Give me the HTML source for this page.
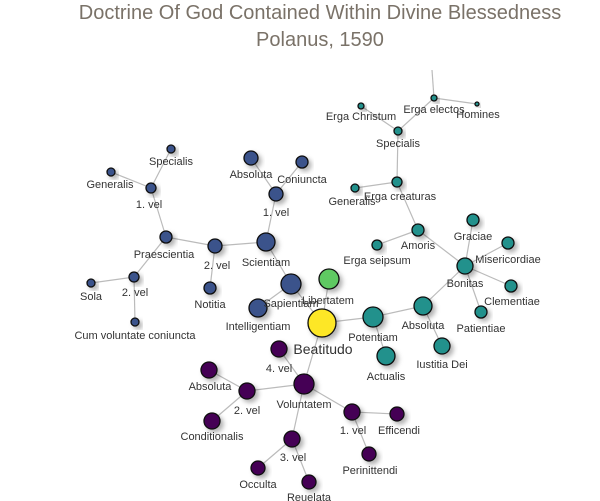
<!DOCTYPE html>
<html><head><meta charset="utf-8"><style>
body{margin:0;background:#fff;width:600px;height:501px;overflow:hidden;font-family:"Liberation Sans",sans-serif}
#title{position:absolute;left:0;top:0;width:640px;text-align:center;color:#7a7268;font-size:20px;line-height:27px;font-weight:300}
svg{position:absolute;left:0;top:0}
</style></head><body>
<div id="title">Doctrine Of God Contained Within Divine Blessedness<br>Polanus, 1590</div>
<svg id="chart" width="600" height="501">
<defs><filter id="sh" x="-50%" y="-50%" width="200%" height="200%"><feDropShadow dx="3" dy="3" stdDeviation="2.5" flood-color="#000" flood-opacity="0.3"/></filter></defs>
<g id="edges"></g><g id="nodes"></g><g id="labels"></g>
</svg>
<script>
const COLORS={b:"#3b528b",t:"#21918c",p:"#440154",y:"#fde725",g:"#5ec962"};
const nodeIds=["beat","lib","sap","int","sci","v1b","absb","con","v2b","not","prae","v1c","spec","gen","v2c","sola","cum",
"pot","act","absT","iust","bon","grac","mis","clem","pat","amor","seip","ecr","genT","specT","chr","ele","hom","top",
"vol","v4","v2p","absP","cond","v1p","eff","perm","v3","occ","reu"];
const nodeLabels=["Beatitudo","Libertatem","Sapientiam","Intelligentiam","Scientiam","1. vel","Absoluta","Coniuncta","2. vel","Notitia","Praescientia","1. vel","Specialis","Generalis","2. vel","Sola","Cum voluntate coniuncta",
"Potentiam","Actualis","Absoluta","Iustitia Dei","Bonitas","Graciae","Misericordiae","Clementiae","Patientiae","Amoris","Erga seipsum","Erga creaturas","Generalis","Specialis","Erga Christum","Erga electos","Homines","",
"Voluntatem","4. vel","2. vel","Absoluta","Conditionalis","1. vel","Efficendi","Perinittendi","3. vel","Occulta","Reuelata"];
const nodeX=[322,329,291,258,266,276,251,302,215,210,166,151,171,111,134,91,135,373,386,423,442,465,473,508,511,481,418,377,397,355,398,361,434,477,432,304,279,247,209,212,352,397,369,292,258,309];
const nodeY=[323,279,284,308,242,194,158,162,246,288,237,188,149,172,277,283,322,317,356,306,346,266,220,243,286,312,230,245,182,188,131,106,98,104,70,384,349,391,370,421,412,414,454,439,468,482];
const nodeR=[14,10,10,9,9,7,7,6,7,6,6,5,4,4,5,4,4,10,9,9,8,8,6,6,6,6,6,5,5,4,4,3,3,2,0,10,8,8,8,8,8,7,7,8,7,7];
const nodeGroup="ygbbbbbbbbbbbbbbbtttttttttttttttttt".split("").concat("ppppppppppp".split(""));
const labelDY=[31,25,23,22,24,22,20,21,23,20,21,20,16,16,19,17,17,24,24,23,22,21,20,20,19,20,19,19,18,17,16,14,15,14,0,24,23,23,20,19,22,20,20,22,20,19];
const labelDX=[1,-1,0,0,0,0,0,0,2,0,-2,-2,0,-1,1,0,0,0,0,0,0,0,0,0,1,0,0,0,3,-3,0,0,0,1,0,0,0,0,1,0,1,2,1,1,0,0];
const edgeFrom=["beat","sap","sap","sci","v1b","v1b","sci","v2b","v2b","prae","v1c","v1c","prae","v2c","v2c","beat","beat","pot","pot","absT","absT","bon","bon","bon","bon","bon","amor","amor","ecr","ecr","specT","specT","ele","ele","beat","vol","vol","v2p","v2p","vol","v1p","v1p","vol","v3","v3"];
const edgeTo=["sap","sci","int","v1b","absb","con","v2b","not","prae","v1c","spec","gen","v2c","sola","cum","lib","pot","act","absT","iust","bon","grac","mis","clem","pat","amor","seip","ecr","genT","specT","chr","ele","hom","top","vol","v4","v2p","absP","cond","v1p","eff","perm","v3","occ","reu"];
const NS="http://www.w3.org/2000/svg";
const idx=id=>nodeIds.indexOf(id);
const eg=document.getElementById("edges"),ng=document.getElementById("nodes"),lg=document.getElementById("labels");
edgeFrom.forEach((f,i)=>{const a=idx(f),b=idx(edgeTo[i]);const l=document.createElementNS(NS,"line");
l.setAttribute("x1",nodeX[a]);l.setAttribute("y1",nodeY[a]);l.setAttribute("x2",nodeX[b]);l.setAttribute("y2",nodeY[b]);
l.setAttribute("stroke","#bbb");l.setAttribute("stroke-width","1.2");


eg.appendChild(l);});
nodeIds.forEach((id,i)=>{if(nodeR[i]===0)return;const c=document.createElementNS(NS,"circle");
c.setAttribute("cx",nodeX[i]);c.setAttribute("cy",nodeY[i]);c.setAttribute("r",nodeR[i]);
c.setAttribute("fill",COLORS[nodeGroup[i]]);c.setAttribute("stroke","#111");c.setAttribute("stroke-width","1.3");c.setAttribute("filter","url(#sh)");


ng.appendChild(c);
const t=document.createElementNS(NS,"text");t.textContent=nodeLabels[i];
t.setAttribute("x",nodeX[i]+labelDX[i]);t.setAttribute("y",nodeY[i]+labelDY[i]);t.setAttribute("text-anchor","middle");
t.setAttribute("font-size",id==="beat"?"14":"11");t.setAttribute("fill","#333");
t.setAttribute("font-family","Liberation Sans, sans-serif");


lg.appendChild(t);});
</script>
</body></html>
